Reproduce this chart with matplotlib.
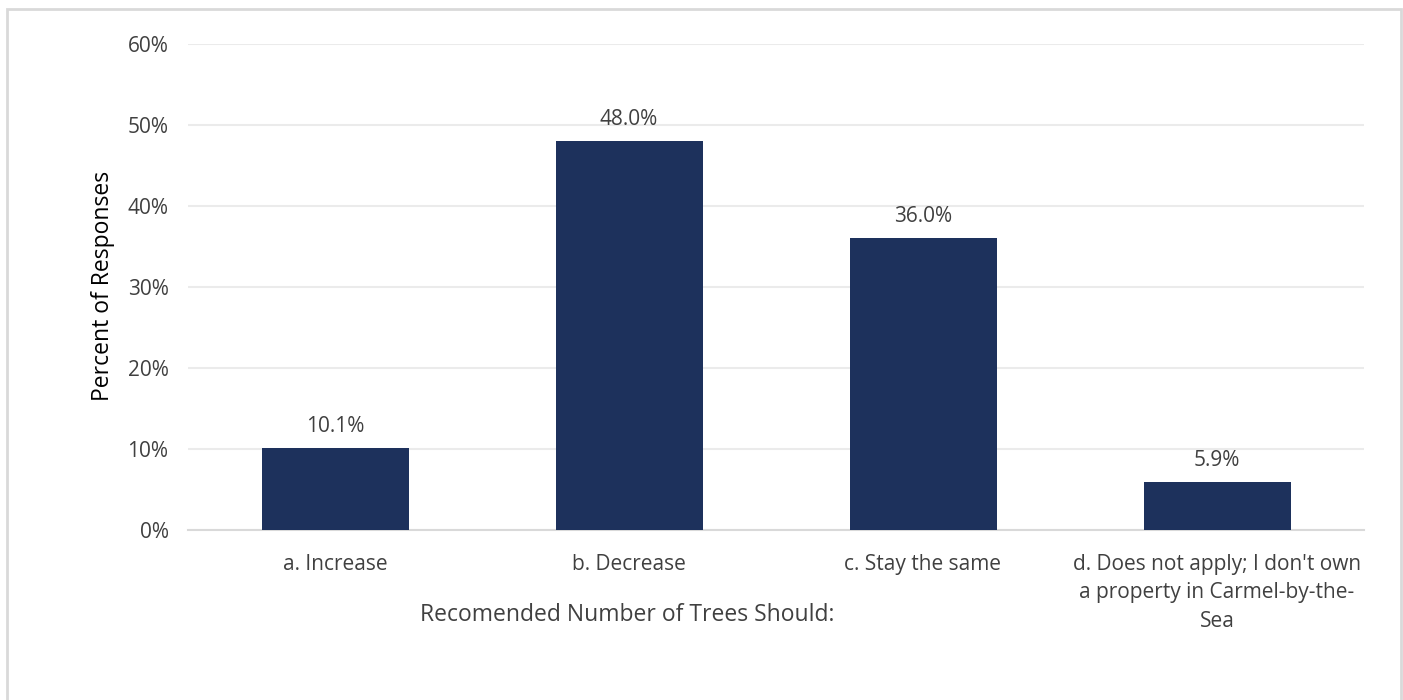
import matplotlib
matplotlib.use("Agg")
import matplotlib.pyplot as plt
from matplotlib.patches import Rectangle
from matplotlib.ticker import FuncFormatter

categories = ["a. Increase", "b. Decrease", "c. Stay the same",
              "d. Does not apply; I don't own\na property in Carmel-by-the-\nSea"]
values = [10.1, 48.0, 36.0, 5.9]
yticks = [0, 10, 20, 30, 40, 50, 60]

plt.rcParams['font.family'] = ['Open Sans', 'DejaVu Sans']
fig = plt.figure(figsize=(14.03, 7.0), dpi=100)
ax = fig.add_axes([188/1403, 1-530/700, (1364-188)/1403, (530-44)/700])

# figure border
fig.patches.append(Rectangle((7/1403, -0.01), (1401-7)/1403, 1-9/700+0.01,
                             transform=fig.transFigure, fill=False,
                             edgecolor="#D9D9D9", linewidth=2))

x = list(range(len(categories)))
bars = ax.bar(x, values, width=0.5, color="#1D315C", zorder=3)
for xi, v in zip(x, values):
    ax.annotate(f"{v:.1f}%", (xi, v), xytext=(0, 8), textcoords="offset points",
                ha="center", va="bottom", fontsize=15, color="#404040")

ax.set_xlim(-0.5, 3.5)
ax.set_ylim(0, 60)
ax.set_yticks(yticks)
ax.yaxis.set_major_formatter(FuncFormatter(lambda v, p: f"{v:.0f}%"))
ax.set_xticks(x)
ax.set_xticklabels(categories, fontsize=15, color="#404040", linespacing=1.48)
ax.tick_params(axis="y", labelsize=15, labelcolor="#404040", length=0, pad=14)
ax.tick_params(axis="x", length=0, pad=17)
ax.grid(axis="y", color="#EBEBEB", linewidth=1.5, zorder=0)
for s in ["top", "right", "left"]:
    ax.spines[s].set_visible(False)
ax.spines["bottom"].set_color("#D9D9D9")
ax.spines["bottom"].set_linewidth(1.5)
fig.text(627/1403, 1-615/700, "Recomended Number of Trees Should:", fontsize=16.5,
         color="#404040", ha="center", va="center")
fig.text(103/1403, 1-286/700, "Percent of Responses", fontsize=16.5, rotation=90,
         color="#000000", ha="center", va="center")

fig.savefig("out.png", dpi=100, facecolor="white")
